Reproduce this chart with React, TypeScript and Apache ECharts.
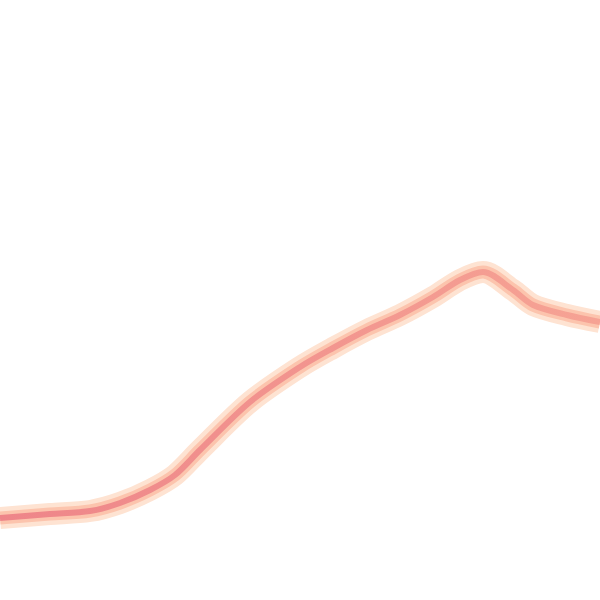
import { useEffect, useRef } from 'react';
import * as echarts from 'echarts';

// horizontal position (0..600) and height above the bottom edge (0..600)
const xs = [0, 50, 90, 120, 150, 175, 200, 250, 300, 333, 367, 400, 433, 460, 483, 513, 533, 567, 600];
const ys = [82, 86, 89, 97, 110, 125, 150, 198, 233, 252, 270, 285, 303, 320, 328, 310, 295, 285, 278];

const points = xs.map((x, i) => [x, ys[i]]);

export default function App() {
  const box = useRef<HTMLDivElement>(null);

  useEffect(() => {
    document.body.style.margin = '0';
    if (!box.current) return;
    const chart = echarts.init(box.current, undefined, { renderer: 'svg' });
    chart.setOption({
      animation: false,
      grid: { left: 0, right: 0, top: 0, bottom: 0 },
      xAxis: { type: 'value', min: 0, max: 600, show: false },
      yAxis: { type: 'value', min: 0, max: 600, show: false },
      series: [
        {
          type: 'line',
          data: points,
          smooth: 0.3,
          showSymbol: false,
          lineStyle: { width: 22, color: '#fee3d2' },
        },
        {
          type: 'line',
          data: points,
          smooth: 0.3,
          showSymbol: false,
          lineStyle: { width: 13, color: '#fcc4ad' },
        },
        {
          type: 'line',
          data: points,
          smooth: 0.3,
          showSymbol: false,
          lineStyle: {
            width: 6,
            color: new echarts.graphic.LinearGradient(0, 0, 1, 0, [
              { offset: 0, color: '#ee8589' },
              { offset: 1, color: '#f6a394' },
            ]),
          },
        },
      ],
    });
    return () => chart.dispose();
  }, []);

  return <div ref={box} style={{ width: 600, height: 600 }} />;
}
